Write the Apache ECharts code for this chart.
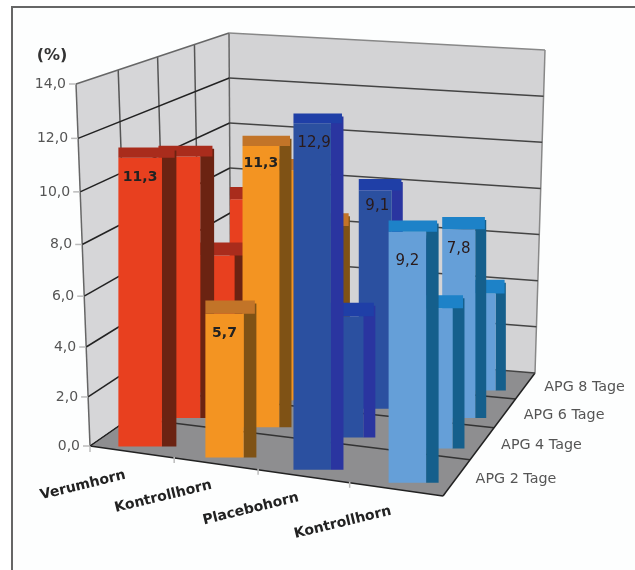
<!DOCTYPE html>
<html>
<head>
<meta charset="utf-8">
<title>APG</title>
<script src="https://cdn.jsdelivr.net/npm/echarts@6/dist/echarts.min.js"></script>
<style>
  html, body { margin: 0; padding: 0; background: #fff; }
  #chart { width: 635px; height: 570px; }
</style>
</head>
<body>
<div id="chart"></div>
<script>
const categories = ['Verumhorn', 'Kontrollhorn', 'Placebohorn', 'Kontrollhorn']
const depthLabels = ['APG 2 Tage', 'APG 4 Tage', 'APG 6 Tage', 'APG 8 Tage']
const yTicks = [0, 2, 4, 6, 8, 10, 12, 14]

// one list per day (hidden bars are estimates)
const apg2 = [11.3, 5.7, 12.9, 9.2]
const apg4 = [10.7, 11.3, 5.0, 5.6]
const apg6 = [6.0, 9.7, 9.1, 7.8]
const apg8 = [7.6, 6.7, 6.0, 4.4]
const rows = [apg2, apg4, apg6, apg8]
// which bars carry a printed value: [row, category]
const labelled = [[0, 0], [0, 1], [0, 2], [0, 3], [1, 1], [2, 2], [2, 3]]

const faceColors = ['#e8401f', '#f39422', '#2b50a0', '#659fd8']
const sideColors = ['#6b2312', '#7f5215', '#2a35a0', '#155f8c']
const topColors = ['#a92c1c', '#c27428', '#1f3fa7', '#1d82c8']

// corners of the box on screen: front-left, front-right, back-right, back-left
const floorQuad = [[90, 446], [443, 496], [535, 373], [231, 348]]
const ceilQuad = [[76, 84], [452, 96], [545, 50], [229, 33]]
// bar width in the front row per category, and how it shrinks row by row
const frontWidths = [58, 51, 50, 50]
const rowScale = [1, 0.96, 0.88, 0.82]
// the last category runs a bit left of the box as it goes back
const rowDrift = [0, 0, 0, 2]
// nudges for the printed values that do not sit at the usual height
const labelDrop = { '0-3': 9, '2-2': -4, '1-1': -3 }

const squareToQuad = (q) => {
  const [[x0, y0], [x1, y1], [x2, y2], [x3, y3]] = q
  const dx1 = x1 - x2, dx2 = x3 - x2, sx = x0 - x1 + x2 - x3
  const dy1 = y1 - y2, dy2 = y3 - y2, sy = y0 - y1 + y2 - y3
  const den = dx1 * dy2 - dx2 * dy1
  const g = (sx * dy2 - dx2 * sy) / den
  const h = (dx1 * sy - sx * dy1) / den
  const a = x1 - x0 + g * x1, b = x3 - x0 + h * x3
  const d = y1 - y0 + g * y1, e = y3 - y0 + h * y3
  return (u, w) => {
    const t = g * u + h * w + 1
    return [(a * u + b * w + x0) / t, (d * u + e * w + y0) / t]
  }
}
const floorMap = squareToQuad(floorQuad)
const ceilMap = squareToQuad(ceilQuad)

// u across, w into the picture, v up (all 0..1)
const project = (u, w, v) => {
  const p = floorMap(u, w)
  const q = ceilMap(u, w)
  return [p[0] + (q[0] - p[0]) * v, p[1] + (q[1] - p[1]) * v]
}

// the flat grid gives u and v from the axes, the depth is added on top
const flat = (params, api, cat, val) => {
  const cs = params.coordSys
  const pt = api.coord([cat, val])
  return [(pt[0] - cs.x) / cs.width, (cs.y + cs.height - pt[1]) / cs.height]
}

const fmt = (v) => v.toFixed(1).replace('.', ',')
const line = (a, b, color, width) => ({
  type: 'line',
  shape: { x1: a[0], y1: a[1], x2: b[0], y2: b[1] },
  style: { stroke: color, lineWidth: width }
})
const poly = (pts, color) => ({
  type: 'polygon',
  shape: { points: pts },
  style: { fill: color }
})
const rect = (x0, y0, x1, y1, color) => ({
  type: 'rect',
  shape: { x: x0, y: y0, width: x1 - x0, height: y1 - y0 },
  style: { fill: color }
})

const renderBox = () => ({
  type: 'group',
  children: [
    poly([project(0, 0, 0), project(0, 1, 0), project(0, 1, 1), project(0, 0, 1)], '#d6d6d8'),
    poly([project(0, 1, 0), project(1, 1, 0), project(1, 1, 1), project(0, 1, 1)], '#d3d3d5'),
    poly([project(0, 0, 0), project(1, 0, 0), project(1, 1, 0), project(0, 1, 0)], '#8e8e90')
  ].concat([0.25, 0.5, 0.75].map((w) => line(project(0, w, 0), project(0, w, 1), '#555', 1.5)))
    .concat([0.25, 0.5, 0.75].map((w) => line(project(0, w, 0), project(1, w, 0), '#333', 1.5)))
    .concat([
      line(project(0, 0, 0), project(0, 0, 1), '#666', 1.5),
      line(project(0, 1, 0), project(0, 1, 1), '#666', 1.5),
      line(project(1, 1, 0), project(1, 1, 1), '#888', 1.5),
      line(project(0, 0, 0), project(1, 0, 0), '#222', 1.5),
      line(project(1, 0, 0), project(1, 1, 0), '#222', 1.5),
      line(project(0, 0, 0), project(0, 1, 0), '#333', 1)
    ])
})

const renderTick = (params, api) => {
  const v = flat(params, api, 0, api.value(0))[1]
  // the front edge of the left wall is not quite even in the picture
  const a = project(0, 0, v - 0.06 * v * (1 - v))
  const b = project(0, 1, v)
  const c = project(1, 1, v)
  const top = v === 1
  return {
    type: 'group',
    children: [
      line(a, b, top ? '#666' : '#222', 1.5),
      line(b, c, top ? '#888' : '#444', 1.5),
      line([a[0] - 7, a[1]], a, '#bbb', 1.5),
      {
        type: 'text',
        x: a[0] - 10,
        y: a[1],
        style: {
          text: fmt(api.value(0)),
          align: 'right',
          verticalAlign: 'middle',
          font: '14px "DejaVu Sans"',
          fill: '#555'
        }
      }
    ]
  }
}

const renderCategory = (params, api) => {
  const cat = api.value(0)
  const u = flat(params, api, cat, 0)[0]
  const p = project(u, 0, 0)
  const edge = project(cat / categories.length, 0, 0)
  const tickX = edge[0] + (cat > 0 ? 7 : 0)
  return {
    type: 'group',
    children: [
      line([tickX, edge[1]], [tickX, edge[1] + 6], '#bbb', 1.5),
      {
        type: 'text',
        x: p[0] - 45 - (cat === 3 ? 4 : 0),
        y: p[1] + 34,
        rotation: 0.24,
        style: {
          text: categories[cat],
          align: 'center',
          verticalAlign: 'middle',
          font: 'bold 14px "DejaVu Sans"',
          fill: '#222'
        }
      }
    ]
  }
}

const renderDepth = (params, api) => {
  const r = api.value(0)
  const p = project(1, (r + 0.5) / rows.length, 0)
  return {
    type: 'text',
    x: p[0] + 59,
    y: p[1] + 2,
    style: {
      text: depthLabels[r],
      align: 'center',
      verticalAlign: 'middle',
      font: '14.3px "DejaVu Sans"',
      fill: '#555'
    }
  }
}

const renderBar = (params, api) => {
  const cat = api.value(0)
  const val = api.value(1)
  const r = api.value(2)
  const [u, v] = flat(params, api, cat, val)
  const w = (r + 0.5) / rows.length - 0.085
  const bottom = project(u, w, 0)[1]
  const top = project(u, w, v)[1] - 6
  const x1 = project(u, w, 0)[0] + 17 + 25 * rowScale[r] - rowDrift[cat] * r
  const x0 = x1 - frontWidths[cat] * rowScale[r]
  const xs = x0 + (x1 - x0) * 0.75
  const strip = 16 - val * 0.5
  const children = [
    rect(xs, top + 3, x1, bottom, sideColors[cat]),
    rect(x0, top + strip, xs, bottom, faceColors[cat]),
    rect(x0, top, x0 + (x1 - x0) * 0.97, top + strip, topColors[cat])
  ]
  if (api.value(3)) {
    children.push({
      type: 'text',
      x: (x0 + xs) / 2 + (cat === 2 ? 2 : 0),
      y: top + strip + 20 + (labelDrop[r + '-' + cat] || 0),
      style: {
        text: fmt(val),
        align: 'center',
        verticalAlign: 'middle',
        font: cat < 2 ? 'bold 14px "DejaVu Sans"' : '15px "DejaVu Sans"',
        fill: cat < 2 ? '#222' : '#2a1a1a'
      }
    })
  }
  return { type: 'group', children }
}

// back row first so the front bars cover the ones behind
const barData = []
for (let r = rows.length - 1; r >= 0; r--) {
  rows[r].forEach((val, cat) => {
    const hasLabel = labelled.some((l) => l[0] === r && l[1] === cat)
    barData.push([cat, val, r, hasLabel ? 1 : 0])
  })
}

const customBase = { type: 'custom', coordinateSystem: 'cartesian2d', clip: false, silent: true }

const chart = echarts.init(document.getElementById('chart'))
chart.setOption({
  animation: false,
  backgroundColor: '#fff',
  tooltip: { show: false },
  grid: { left: 90, top: 84, width: 353, height: 362 },
  xAxis: { type: 'category', data: categories, show: false },
  yAxis: { type: 'value', min: 0, max: 14, interval: 2, show: false },
  graphic: [
    {
      type: 'rect',
      z: -1,
      shape: { x: 12, y: 7, width: 700, height: 700 },
      style: { fill: '#fdfefe', stroke: '#666', lineWidth: 2 }
    },
    {
      type: 'text',
      x: 52,
      y: 56,
      style: {
        text: '(%)',
        align: 'center',
        verticalAlign: 'middle',
        font: 'bold 16px "DejaVu Sans"',
        fill: '#333'
      }
    }
  ],
  series: [
    Object.assign({}, customBase, { data: [[0, 0]], renderItem: renderBox, z: 1 }),
    Object.assign({}, customBase, { data: yTicks.map((t) => [t]), encode: { y: 0 }, renderItem: renderTick, z: 2 }),
    Object.assign({}, customBase, { data: categories.map((c, i) => [i]), encode: { x: 0 }, renderItem: renderCategory, z: 2 }),
    Object.assign({}, customBase, { data: depthLabels.map((d, i) => [i]), encode: { x: 0 }, renderItem: renderDepth, z: 2 }),
    Object.assign({}, customBase, { data: barData, encode: { x: 0, y: 1 }, renderItem: renderBar, z: 3 })
  ]
})
</script>
</body>
</html>
